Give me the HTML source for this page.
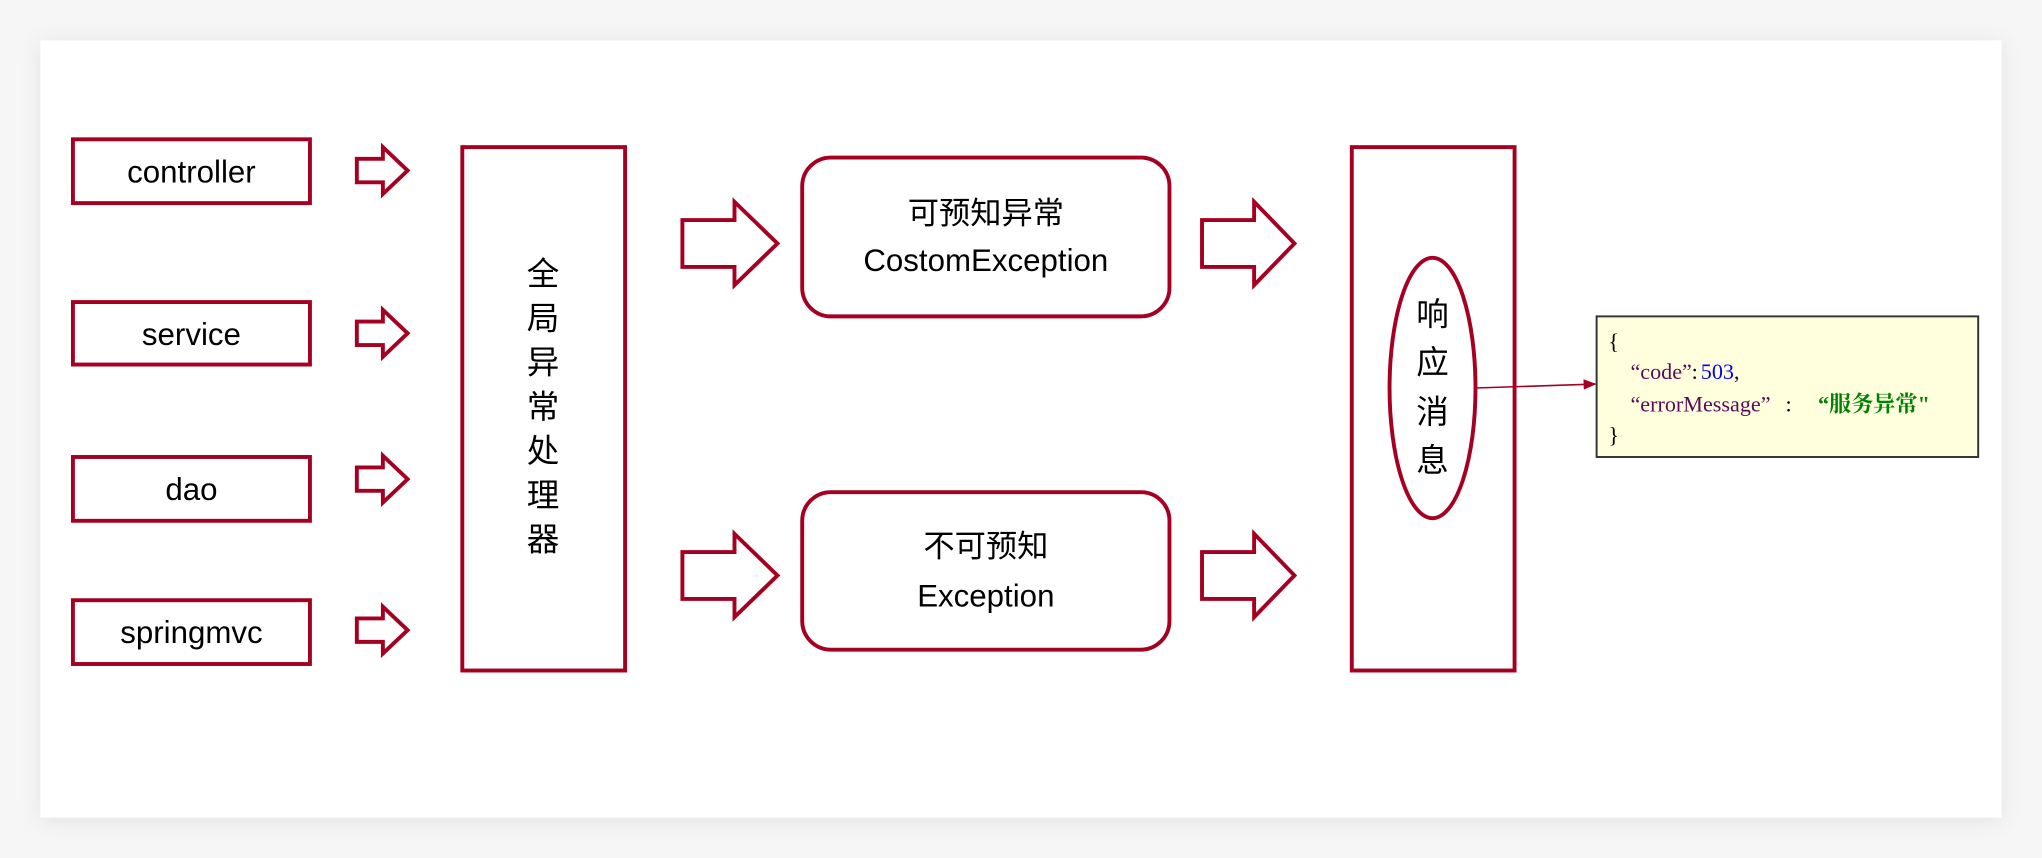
<!DOCTYPE html>
<html><head><meta charset="utf-8"><style>
html,body{margin:0;padding:0;background:#f4f4f4;}
svg{display:block;}
</style></head><body>
<svg width="2042" height="858" viewBox="0 0 1568 659" preserveAspectRatio="none" xmlns="http://www.w3.org/2000/svg">
<defs>
<filter id="sh" x="-5%" y="-5%" width="110%" height="110%"><feGaussianBlur stdDeviation="8"/></filter>
<marker id="ah" markerWidth="10" markerHeight="8" refX="9" refY="4" orient="auto" markerUnits="userSpaceOnUse"><path d="M0,0 L10,4 L0,8 z" fill="#a50021"/></marker>
</defs>
<rect width="1568" height="659" fill="#f6f6f6"/>
<rect x="31" y="33" width="1506" height="597" fill="#e2e2e2" filter="url(#sh)"/>
<rect x="31" y="31" width="1506" height="597" fill="#fff"/>
<g fill="none" stroke="#a50021" stroke-width="3">
<rect x="56" y="107" width="182" height="49"/>
<rect x="56" y="232" width="182" height="48"/>
<rect x="56" y="351" width="182" height="49"/>
<rect x="56" y="461" width="182" height="49"/>
<path d="M274,122 h20 v-9 l19,18 l-19,18 v-9 h-20 z"/>
<path d="M274,247 h20 v-9 l19,18 l-19,18 v-9 h-20 z"/>
<path d="M274,359 h20 v-9 l19,18 l-19,18 v-9 h-20 z"/>
<path d="M274,475 h20 v-9 l19,18 l-19,18 v-9 h-20 z"/>
<rect x="355" y="113" width="125" height="402"/>
<path d="M524,169 h40 v-14 l33,32 l-33,32 v-14 h-40 z"/>
<path d="M524,424 h40 v-14 l33,32 l-33,32 v-14 h-40 z"/>
<rect x="616" y="121" width="282" height="122" rx="22"/>
<rect x="616" y="378" width="282" height="121" rx="22"/>
<path d="M923,169 h40 v-14 l31,32 l-31,32 v-14 h-40 z"/>
<path d="M923,424 h40 v-14 l31,32 l-31,32 v-14 h-40 z"/>
<rect x="1038" y="113" width="125" height="402"/>
<ellipse cx="1100" cy="298" rx="33" ry="100"/>
</g>
<line x1="1133" y1="298" x2="1225" y2="295" stroke="#a50021" stroke-width="1.2" marker-end="url(#ah)"/>
<g font-family="Liberation Sans, Noto Sans CJK SC, sans-serif" font-size="24" fill="#000" text-anchor="middle">
<text x="147" y="140">controller</text>
<text x="147" y="265">service</text>
<text x="147" y="384">dao</text>
<text x="147" y="494">springmvc</text>
<text x="757" y="172">可预知异常</text>
<text x="757" y="208">CostomException</text>
<text x="757" y="428">不可预知</text>
<text x="757" y="466">Exception</text>
</g>
<g font-family="Noto Sans CJK SC, sans-serif" font-size="25" fill="#000" text-anchor="middle">
<text x="417" y="219">全</text><text x="417" y="253">局</text><text x="417" y="287">异</text><text x="417" y="321">常</text><text x="417" y="355">处</text><text x="417" y="389">理</text><text x="417" y="423">器</text>
<text x="1100" y="250">响</text><text x="1100" y="287">应</text><text x="1100" y="325">消</text><text x="1100" y="362">息</text>
</g>
<rect x="1226" y="243" width="293" height="108" fill="#ffffdd" stroke="#333" stroke-width="1.5"/>
<g font-family="Liberation Serif, Noto Serif CJK SC, serif" font-size="17">
<text x="1235" y="268" fill="#000">{</text>
<text y="291"><tspan x="1252" fill="#5a0a5a">“code”</tspan><tspan x="1299" fill="#000">:</tspan><tspan x="1306" fill="#0000ff">503</tspan><tspan fill="#000">,</tspan></text>
<text y="316"><tspan x="1252" fill="#5a0a5a">“errorMessage”</tspan><tspan x="1371" fill="#000">:</tspan><tspan x="1396" fill="#008000" font-weight="bold">“服务异常"</tspan></text>
<text x="1235" y="340" fill="#000">}</text>
</g>
</svg>
</body></html>
